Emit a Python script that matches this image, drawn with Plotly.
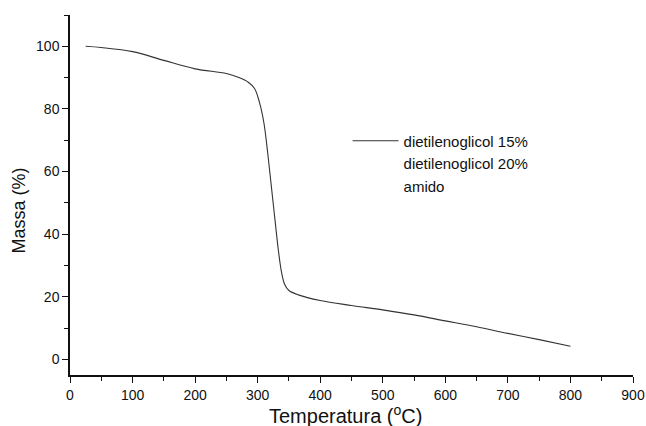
import plotly.graph_objects as go

# Thermogravimetric curve: temperature (°C) vs remaining mass (%)
temperatura = [25, 50, 100, 150, 200, 250, 270, 285, 295, 303, 310, 316, 322, 328,
               333, 338, 343, 350, 365, 400, 450, 500, 550, 600, 650, 700, 750, 800]
massa_deg15 = [100, 99.6, 98.3, 95.5, 92.8, 91.3, 90.0, 88.5, 86.5, 82.0, 75.5, 66.0, 55.0, 44.0,
               35.0, 28.0, 24.0, 22.0, 20.6, 18.8, 17.2, 15.8, 14.2, 12.3, 10.4, 8.3, 6.3, 4.2]
# the other two samples overlap the first curve
massa_deg20 = list(massa_deg15)
massa_amido = list(massa_deg15)

series_names = ["dietilenoglicol 15%", "dietilenoglicol 20%", "amido"]

x_ticks = [0, 100, 200, 300, 400, 500, 600, 700, 800, 900]
y_ticks = [0, 20, 40, 60, 80, 100]

fig = go.Figure()
fig.add_trace(go.Scatter(x=temperatura, y=massa_amido, name=series_names[2], mode="lines",
                         line=dict(color="rgba(255,255,255,0)", width=1), legendrank=3))
fig.add_trace(go.Scatter(x=temperatura, y=massa_deg20, name=series_names[1], mode="lines",
                         line=dict(color="rgba(255,255,255,0)", width=1), legendrank=2))
fig.add_trace(go.Scatter(x=temperatura, y=massa_deg15, name=series_names[0], mode="lines",
                         line=dict(color="#333333", width=1.1, shape="spline"), legendrank=1))

axis_font = dict(family="Liberation Sans, Arial, sans-serif", size=14, color="#111")
fig.update_layout(
    width=646, height=426,
    margin=dict(l=70, r=13, t=15, b=51),
    paper_bgcolor="white", plot_bgcolor="white",
    font=dict(family="Liberation Sans, Arial, sans-serif", color="#111"),
    legend=dict(x=0.493, y=0.696, xanchor="left", yanchor="top",
                bgcolor="rgba(0,0,0,0)", font=dict(size=15, color="#111"),
                itemwidth=46, traceorder="normal"),
    showlegend=True,
)
fig.update_xaxes(
    range=[0, 900], tickvals=x_ticks, ticktext=[str(v) for v in x_ticks],
    showline=True, linecolor="#111", linewidth=1.5, showgrid=False, zeroline=False,
    ticks="outside", ticklen=6, tickwidth=1.2, tickcolor="#111", tickfont=axis_font,
    minor=dict(dtick=50, tick0=0, ticks="outside", ticklen=4, tickcolor="#111", showgrid=False),
    automargin=False,
)
fig.update_yaxes(
    range=[-5, 110], tickvals=y_ticks, ticktext=[str(v) for v in y_ticks],
    showline=True, linecolor="#111", linewidth=1.5, showgrid=False, zeroline=False,
    ticks="outside", ticklen=6, tickwidth=1.2, tickcolor="#111", tickfont=axis_font,
    minor=dict(dtick=10, tick0=0, ticks="outside", ticklen=4, tickcolor="#111", showgrid=False),
    automargin=False,
)

# axis titles
fig.add_annotation(text="Temperatura (<sup>o</sup>C)", xref="paper", yref="paper",
                   x=0.49, y=-0.111, xanchor="center", yanchor="middle", showarrow=False,
                   font=dict(size=20, color="#111"))
fig.add_annotation(text="Massa (%)", xref="paper", yref="paper", textangle=-90,
                   x=-0.0898, y=0.458, xanchor="center", yanchor="middle", showarrow=False,
                   font=dict(size=18, color="#111"))

fig.write_html("out.html")
